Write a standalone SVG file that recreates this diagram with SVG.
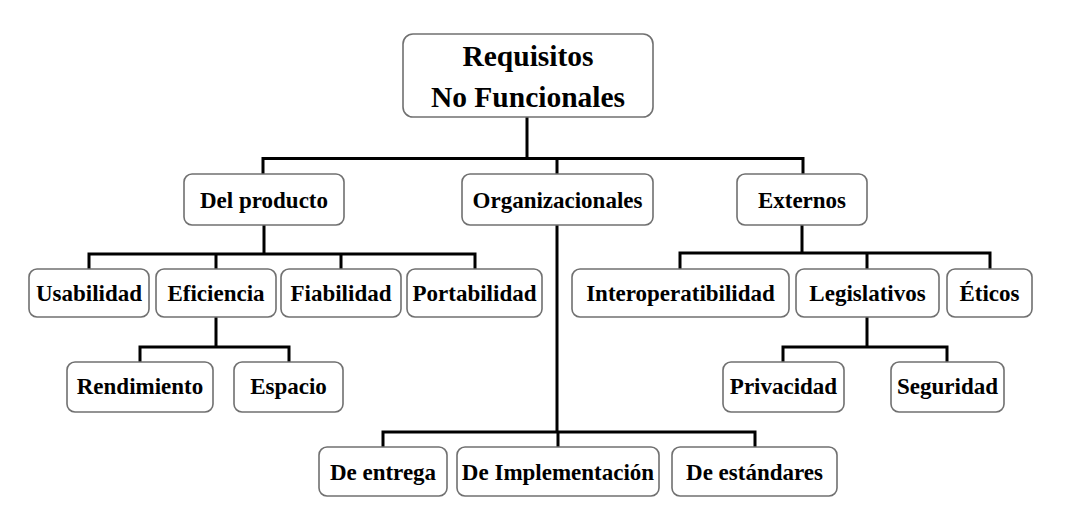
<svg xmlns="http://www.w3.org/2000/svg" width="1090" height="525" viewBox="0 0 1090 525">
<style>
.box{fill:#fff;stroke:#707070;stroke-width:1.6}
.t{font-family:"Liberation Serif","Times New Roman",serif;font-weight:bold;font-size:23px;fill:#000;text-anchor:middle}
.rt{font-size:29.5px}
.c{fill:none;stroke:#000;stroke-width:3;stroke-linejoin:miter;stroke-linecap:square}
</style>
<rect width="1090" height="525" fill="#fff"/>
<g id="connectors">
<path class="c" d="M527 117V158.5M263 173V158.5H803V173M557 158.5V173"/>
<path class="c" d="M264 226V254M89 268V254H475V268M216 254V268M341 254V268"/>
<path class="c" d="M216 318V347M140 361V347H289V361"/>
<path class="c" d="M557 226V432M383 446V432H755V446M558 432V446"/>
<path class="c" d="M802 226V253M680 268V253H990V268M867 253V268"/>
<path class="c" d="M867 318V347M783 361V347H947V361"/>
</g>
<g id="root"><rect class="box" x="403" y="34" width="250" height="83" rx="10"/><text class="t rt" x="528" y="66">Requisitos</text><text class="t rt" x="528" y="107">No Funcionales</text></g>
<g id="del-producto"><rect class="box" x="184" y="174" width="160" height="51" rx="8"/><text class="t" x="264" y="208">Del producto</text></g>
<g id="organizacionales"><rect class="box" x="462" y="174" width="191" height="51" rx="8"/><text class="t" x="557.5" y="208">Organizacionales</text></g>
<g id="externos"><rect class="box" x="737" y="174" width="130" height="51" rx="8"/><text class="t" x="802" y="208">Externos</text></g>
<g id="usabilidad"><rect class="box" x="29" y="269" width="120" height="48" rx="8"/><text class="t" x="89" y="301">Usabilidad</text></g>
<g id="eficiencia"><rect class="box" x="156" y="269" width="120" height="48" rx="8"/><text class="t" x="216" y="301">Eficiencia</text></g>
<g id="fiabilidad"><rect class="box" x="281" y="269" width="120" height="48" rx="8"/><text class="t" x="341" y="301">Fiabilidad</text></g>
<g id="portabilidad"><rect class="box" x="407" y="269" width="135" height="48" rx="8"/><text class="t" x="474.5" y="301">Portabilidad</text></g>
<g id="interoperatibilidad"><rect class="box" x="572" y="269" width="217" height="48" rx="8"/><text class="t" x="680.5" y="301">Interoperatibilidad</text></g>
<g id="legislativos"><rect class="box" x="796" y="269" width="143" height="48" rx="8"/><text class="t" x="867.5" y="301">Legislativos</text></g>
<g id="eticos"><rect class="box" x="947" y="269" width="85" height="48" rx="8"/><text class="t" x="989.5" y="301">Éticos</text></g>
<g id="rendimiento"><rect class="box" x="67" y="362" width="146" height="50" rx="8"/><text class="t" x="140" y="394">Rendimiento</text></g>
<g id="espacio"><rect class="box" x="234" y="362" width="109" height="50" rx="8"/><text class="t" x="288.5" y="394">Espacio</text></g>
<g id="privacidad"><rect class="box" x="723" y="362" width="121" height="50" rx="8"/><text class="t" x="783.5" y="394">Privacidad</text></g>
<g id="seguridad"><rect class="box" x="891" y="362" width="113" height="50" rx="8"/><text class="t" x="947.5" y="394">Seguridad</text></g>
<g id="de-entrega"><rect class="box" x="319" y="447" width="128" height="49" rx="8"/><text class="t" x="383" y="480">De entrega</text></g>
<g id="de-implementacion"><rect class="box" x="457" y="447" width="202" height="49" rx="8"/><text class="t" x="558" y="480">De Implementación</text></g>
<g id="de-estandares"><rect class="box" x="672" y="447" width="165" height="49" rx="8"/><text class="t" x="754.5" y="480">De estándares</text></g>
</svg>
